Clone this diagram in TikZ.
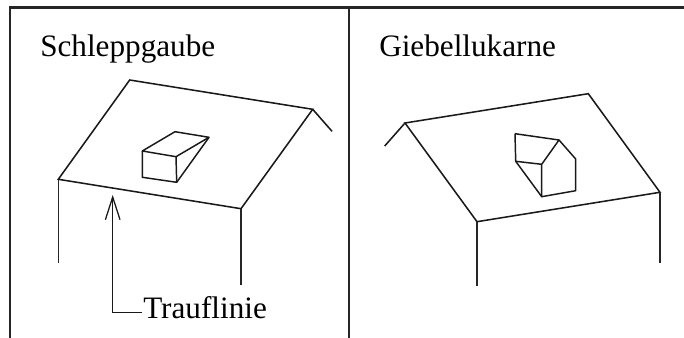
\documentclass[tikz,border=0pt]{standalone}
\usepackage{fontspec}
\setmainfont{Liberation Serif}
\usetikzlibrary{arrows.meta}

\begin{document}
\begin{tikzpicture}[
    x=0.75pt, y=-0.75pt,
    frame/.style={line width=1.7pt, black!85},
    roof/.style={line width=1.15pt, black!90, line join=miter},
    wall/.style={line width=1pt, black!85},
    dormer/.style={line width=1.1pt, black!90, line join=round},
    label/.style={anchor=base west, inner sep=0pt, font=\fontsize{23.4}{28}\selectfont, text=black},
    arrow/.style={-{Straight Barb[length=17pt, width=11pt]}, line width=0.95pt, black!90}
]
    \useasboundingbox (0, 0) rectangle (684, 338);

    % Frame
    \coordinate (frameBL) at (10, 338);
    \coordinate (frameTL) at (10, 7.5);
    \coordinate (frameTR) at (684, 7.5);
    \coordinate (frameMT) at (349, 7.5);
    \coordinate (frameMB) at (349, 338);
    \draw[frame] (frameBL) -- (frameTL) -- (frameTR);
    \draw[frame] (frameMT) -- (frameMB);

    % Labels
    \node[label] (schlepp) at (40, 56.5) {Schleppgaube};
    \node[label] (giebel) at (379, 56.5) {Giebellukarne};
    \node[label] (trauf) at (143, 318.5) {Trauflinie};

    % Left roof
    \coordinate (lRidgeA) at (129.7, 80);
    \coordinate (lRidgeB) at (312.7, 109.3);
    \coordinate (lBack) at (332, 131.3);
    \coordinate (lEaveA) at (58.3, 179.3);
    \coordinate (lEaveB) at (241, 208.7);
    \coordinate (lWallA) at (58.3, 262.7);
    \coordinate (lWallB) at (241, 285);
    \draw[roof] (lEaveA) -- (lRidgeA) -- (lRidgeB) -- (lEaveB) -- cycle;
    \draw[roof] (lRidgeB) -- (lBack);
    \draw[wall] (lEaveA) -- (lWallA);
    \draw[wall] (lEaveB) -- (lWallB);

    % Left dormer
    \coordinate (sdA) at (142.3, 151);
    \coordinate (sdB) at (175, 131.7);
    \coordinate (sdC) at (209, 137.3);
    \coordinate (sdD) at (176, 156.7);
    \coordinate (sdE) at (142.3, 177.3);
    \coordinate (sdF) at (176.7, 182.3);
    \draw[dormer] (sdA) -- (sdB) -- (sdC) -- (sdD) -- cycle;
    \draw[dormer] (sdA) -- (sdE) -- (sdF) -- (sdD);
    \draw[dormer] (sdF) -- (sdC);

    % Arrow to eave
    \coordinate (arrowTip) at (112.7, 195);
    \coordinate (arrowEnd) at (141.7, 312.7);
    \draw[arrow] (arrowEnd) -| (arrowTip);

    % Right roof
    \coordinate (rRidgeA) at (405, 123);
    \coordinate (rRidgeB) at (588.3, 93.7);
    \coordinate (rBack) at (384.7, 146);
    \coordinate (rEaveA) at (477, 221.7);
    \coordinate (rEaveB) at (660, 192.3);
    \coordinate (rWallA) at (477, 285.7);
    \coordinate (rWallB) at (660, 262.7);
    \draw[roof] (rEaveA) -- (rRidgeA) -- (rRidgeB) -- (rEaveB) -- cycle;
    \draw[roof] (rRidgeA) -- (rBack);
    \draw[wall] (rEaveA) -- (rWallA);
    \draw[wall] (rEaveB) -- (rWallB);

    % Right dormer
    \coordinate (gdA) at (515, 133.7);
    \coordinate (gdB) at (559, 140);
    \coordinate (gdC) at (575.7, 159);
    \coordinate (gdD) at (575.7, 190.7);
    \coordinate (gdE) at (541.7, 196.7);
    \coordinate (gdF) at (541.7, 164.3);
    \coordinate (gdG) at (515.7, 161.3);
    \draw[dormer] (gdA) -- (gdB) -- (gdC) -- (gdD) -- (gdE) -- (gdF) -- (gdB);
    \draw[dormer] (gdA) -- (gdG) -- (gdF);
    \draw[dormer] (gdG) -- (gdE);
\end{tikzpicture}
\end{document}
